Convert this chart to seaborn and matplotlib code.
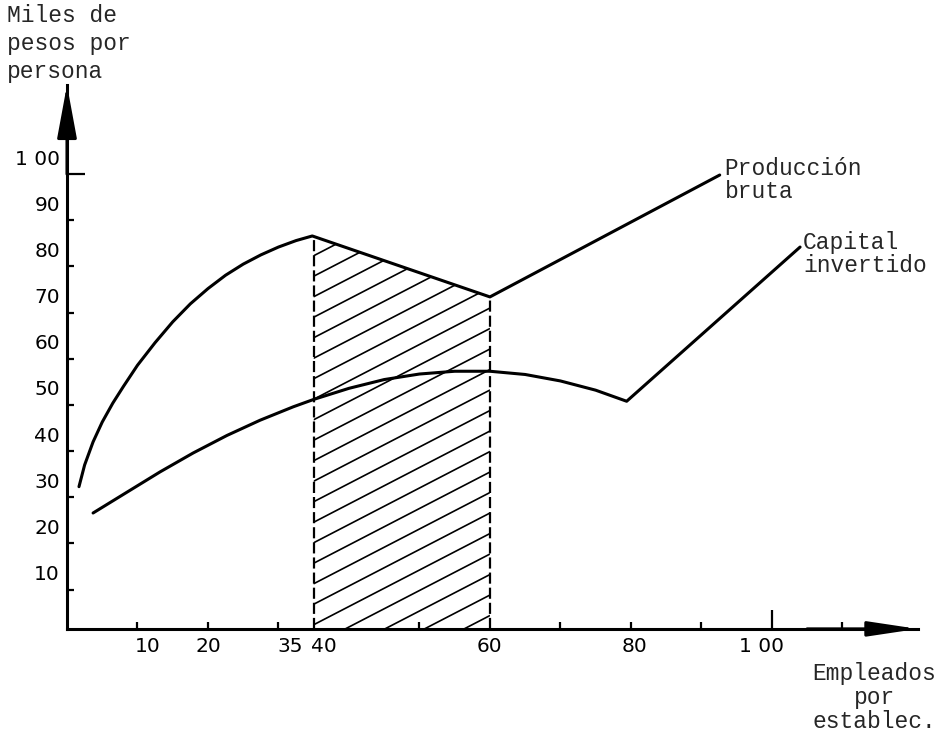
import matplotlib
matplotlib.use('Agg')
import numpy as np
import pandas as pd
import matplotlib.pyplot as plt
import seaborn as sns
from matplotlib.patches import Polygon

sns.set_style('white')
plt.rcParams['font.family'] = ['DejaVu Sans']

# curves (x = empleados, y = miles de pesos)
prod_x = [1.7, 2.5, 3.7, 5.0, 6.5, 8.0, 10.0, 12.5, 15.0, 17.5, 20.0, 22.5, 25.0, 27.5,
          30.0, 32.5, 34.8, 60.0, 92.6]
prod_y = [32.3, 37.0, 42.0, 46.3, 50.4, 54.0, 58.6, 63.5, 68.0, 71.9, 75.2, 78.1, 80.5,
          82.5, 84.2, 85.6, 86.6, 73.4, 99.8]
cap_x = [3.7, 8.5, 13.2, 17.9, 22.7, 27.4, 32.1, 35.0, 40.0, 45.0, 50.0, 55.0, 60.0,
         65.0, 70.0, 75.0, 79.4, 104.0]
cap_y = [26.6, 31.1, 35.5, 39.6, 43.4, 46.7, 49.6, 51.2, 53.6, 55.5, 56.7, 57.3, 57.3,
         56.6, 55.2, 53.2, 50.8, 84.2]
shade_from, shade_to = 35, 60

y_ticks = [10, 20, 30, 40, 50, 60, 70, 80, 90, 100]
y_tick_labels = ['10', '20', '30', '40', '50', '60', '70', '80', '90', '1 00']
x_ticks = [10, 20, 30, 50, 70, 80, 90, 100, 110]
x_label_pos = [11.5, 20, 31.7, 36.4, 60, 80.5, 98.5]
x_label_txt = ['10', '20', '35', '40', '60', '80', '1 00']

ylo, yhi = 1.5, 119.3
xlo, xhi = 0, 120.7
mono = 'Liberation Mono'

fig = plt.figure(figsize=(9.37, 7.39), dpi=100)
ax = fig.add_axes([0.0715, 0.149, 0.908, 0.736])

prod = pd.DataFrame({'x': prod_x, 'y': prod_y})
cap = pd.DataFrame({'x': cap_x, 'y': cap_y})
sns.lineplot(data=prod, x='x', y='y', ax=ax, color='black', lw=2.2, sort=False, estimator=None)
sns.lineplot(data=cap, x='x', y='y', ax=ax, color='black', lw=2.2, sort=False, estimator=None)

ax.set_xlim(xlo, xhi)
ax.set_ylim(ylo, yhi)
ax.set_xlabel('')
ax.set_ylabel('')

# hatched zone between 35 and 60 under the production curve
xs = np.linspace(shade_from, shade_to, 40)
top = np.interp(xs, prod_x, prod_y)
verts = [(shade_from, ylo)] + list(zip(xs, top)) + [(shade_to, ylo)]
poly = Polygon(verts, closed=True, fill=False, lw=0)
ax.add_patch(poly)
slope = 0.79
for c in np.arange(2.4 - 24 * 4.44, 92, 4.44):
    ln, = ax.plot([shade_from, shade_to], [c, c + slope * (shade_to - shade_from)],
                  color='black', lw=1.2)
    ln.set_clip_path(poly)
for xv in (shade_from, shade_to):
    ax.plot([xv, xv], [ylo, np.interp(xv, prod_x, prod_y)], color='black',
            lw=1.6, dashes=(5, 1.8))

# axes with arrows
for s in ['top', 'right']:
    ax.spines[s].set_visible(False)
for s in ['left', 'bottom']:
    ax.spines[s].set_linewidth(2.2)
    ax.spines[s].set_color('black')
arrow = dict(arrowstyle='-|>,head_length=0.65,head_width=0.12', mutation_scale=50,
             lw=2.2, color='black', shrinkA=0, shrinkB=0)
ax.annotate('', xy=(0, yhi), xytext=(0, 100), arrowprops=arrow, annotation_clip=False)
ax.annotate('', xy=(xhi, ylo), xytext=(105, ylo),
            arrowprops=dict(arrow, arrowstyle='-|>,head_length=0.6,head_width=0.09'),
            annotation_clip=False)

ax.xaxis.remove_overlapping_locs = False
ax.yaxis.remove_overlapping_locs = False
ax.set_yticks(y_ticks)
ax.set_xticks(x_ticks)
ax.set_yticks([v + 3.7 for v in y_ticks], minor=True)
ax.set_yticklabels(y_tick_labels, minor=True)
ax.set_xticks(x_label_pos, minor=True)
ax.set_xticklabels(x_label_txt, minor=True)
ax.tick_params(which='major', direction='in', length=5, width=1.6, color='black',
               left=True, bottom=True, labelleft=False, labelbottom=False)
ax.tick_params(which='minor', length=0, left=True, bottom=True, labelsize=14.5,
               labelcolor='black')
ax.tick_params(axis='y', which='minor', pad=5)
ax.tick_params(axis='x', which='minor', pad=6)
ax.yaxis.get_major_ticks()[-1].tick1line.set_markersize(13)
ax.xaxis.get_major_ticks()[7].tick1line.set_markersize(14)

ax.text(93.3, 103.6, 'Producción\nbruta', family=mono, fontsize=16.5, va='top', ha='left',
        linespacing=1.0)
ax.text(104.4, 87.6, 'Capital\ninvertido', family=mono, fontsize=16.5, va='top', ha='left',
        linespacing=1.0)
fig.text(0.0075, 0.995, 'Miles de\npesos por\npersona', family=mono, fontsize=16.5,
         va='top', ha='left', linespacing=1.3)
fig.text(0.933, 0.104, 'Empleados\npor\nestablec.', family=mono, fontsize=16.5,
         va='top', ha='center', multialignment='center', linespacing=1.05)

fig.savefig('out.png', dpi=100, facecolor='white')
